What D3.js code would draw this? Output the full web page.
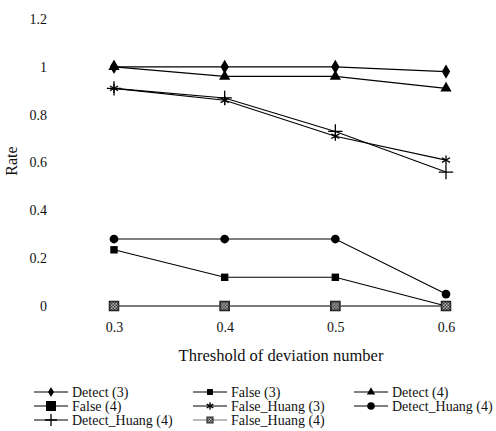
<!DOCTYPE html>
<html>
<head>
<meta charset="utf-8">
<script src="https://cdn.jsdelivr.net/npm/d3@7"></script>
<style>
  body { margin: 0; background: #fff; }
  text { font-family: "Liberation Serif", "DejaVu Serif", serif; fill: #111; }
  .axis text { font-size: 14px; }
  .axis .domain { display: none; }
  .line { fill: none; stroke: #000; stroke-width: 1.1; }
</style>
</head>
<body>
<svg width="496" height="431"></svg>
<script>
// thresholds on the x axis
var thresholds = [0.3, 0.4, 0.5, 0.6];
var yTicks = [0, 0.2, 0.4, 0.6, 0.8, 1, 1.2];

// rates
var detect3 = [1, 1, 1, 0.98];
var false3 = [0.235, 0.12, 0.12, 0];
var detect4 = [1, 0.96, 0.96, 0.91];
var false4 = [0, 0, 0, 0];
var falseHuang3 = [0.91, 0.86, 0.71, 0.61];
var detectHuang4 = [0.28, 0.28, 0.28, 0.05];
var detectHuang4b = [0.91, 0.87, 0.73, 0.56];
var falseHuang4 = [0, 0, 0, 0];

var seriesNames = ["Detect (3)", "False (3)", "Detect (4)", "False (4)",
  "False_Huang (3)", "Detect_Huang (4)", "Detect_Huang (4)", "False_Huang (4)"];
var seriesValues = [detect3, false3, detect4, false4, falseHuang3, detectHuang4, detectHuang4b, falseHuang4];

var svg = d3.select("svg");

var x = d3.scaleLinear().domain([0.3, 0.6]).range([114, 446]),
  y = d3.scaleLinear().domain([0, 1.2]).range([306, 19]);

// marker style per series (size on the chart, size in the legend)
var markers = [
  {type: d3.symbolDiamond, size: 60, leg: 30, fill: "#000", stroke: "none"},
  {type: d3.symbolSquare, size: 55, leg: 35, fill: "#000", stroke: "none"},
  {type: d3.symbolTriangle, size: 55, leg: 30, fill: "#000", stroke: "none"},
  {type: d3.symbolSquare, size: 110, leg: 100, fill: "#000", stroke: "none"},
  {type: d3.symbolAsterisk, size: 60, leg: 40, fill: "none", stroke: "#000"},
  {type: d3.symbolCircle, size: 60, leg: 45, fill: "#000", stroke: "none"},
  {type: d3.symbolPlus, size: 70, leg: 50, fill: "none", stroke: "#000"},
  {type: d3.symbolSquare, size: 70, leg: 35, fill: "url(#hatch)", stroke: "#333"}
];

var pat = svg.append("defs").append("pattern")
  .attr("id", "hatch")
  .attr("width", 3).attr("height", 3)
  .attr("patternUnits", "userSpaceOnUse");
pat.append("rect").attr("width", 3).attr("height", 3).attr("fill", "#bbb");
pat.append("rect").attr("width", 1.5).attr("height", 1.5).attr("fill", "#333");
pat.append("rect").attr("x", 1.5).attr("y", 1.5).attr("width", 1.5).attr("height", 1.5).attr("fill", "#333");

svg.append("g")
  .attr("class", "axis axis--y")
  .attr("transform", "translate(47,0)")
  .call(d3.axisLeft(y).tickValues(yTicks).tickSize(0).tickPadding(0).tickFormat(d3.format("")))
  .attr("font-family", null).attr("font-size", null);

svg.append("g")
  .attr("class", "axis axis--x")
  .attr("transform", "translate(0,306)")
  .call(d3.axisBottom(x).tickValues(thresholds).tickSize(0).tickPadding(16).tickFormat(d3.format(".1f")))
  .attr("font-family", null).attr("font-size", null);

svg.append("text")
  .attr("transform", "translate(17,161) rotate(-90)")
  .attr("text-anchor", "middle")
  .style("font-size", "16px")
  .text("Rate");

svg.append("text")
  .attr("x", 281)
  .attr("y", 361)
  .attr("text-anchor", "middle")
  .style("font-size", "16.5px")
  .text("Threshold of deviation number");

var line = d3.line()
  .x(function(d, i) { return x(thresholds[i]); })
  .y(function(d) { return y(d); });

var series = seriesValues.map(function(v, i) {
  return {id: seriesNames[i], values: v, marker: markers[i], idx: i};
});

var groups = svg.selectAll(".series")
  .data(series)
  .enter().append("g")
  .attr("class", "series");

groups.append("path")
  .attr("class", "line")
  .attr("d", function(d) { return line(d.values); })
  .style("stroke", function(d) { return d.idx === 7 ? "#777" : "#000"; })
  .style("stroke-width", function(d) { return d.idx === 7 ? 1 : 1.1; })
  .style("stroke-dasharray", function(d) { return d.idx === 7 ? "2,1" : null; });

function drawMarker(sel, m, size) {
  sel.attr("d", d3.symbol().type(m.type).size(size))
    .attr("fill", m.fill)
    .attr("stroke", m.stroke)
    .attr("stroke-width", m.stroke === "none" ? 0 : 1.3);
}

groups.each(function(s) {
  d3.select(this).selectAll(".mark")
    .data(s.values)
    .enter().append("path")
    .attr("class", "mark")
    .attr("transform", function(d, i) { return "translate(" + x(thresholds[i]) + "," + y(d) + ")"; })
    .call(drawMarker, s.marker, s.marker.size);
});

// legend, three columns
var legCols = [34, 193, 354],
  legRows = [392, 406, 420];

var leg = svg.selectAll(".legend")
  .data(series)
  .enter().append("g")
  .attr("class", "legend")
  .attr("transform", function(d, i) {
    return "translate(" + legCols[i % 3] + "," + legRows[Math.floor(i / 3)] + ")";
  });

leg.append("line")
  .attr("x1", 0).attr("x2", 34)
  .attr("stroke", function(d) { return d.idx === 7 ? "#777" : "#000"; })
  .attr("stroke-width", 1);

leg.append("path")
  .attr("transform", "translate(17,0)")
  .each(function(d) { d3.select(this).call(drawMarker, d.marker, d.marker.leg); });

leg.append("text")
  .attr("x", 38)
  .attr("dy", "0.35em")
  .style("font-size", "14px")
  .text(function(d) { return d.id; });
</script>
</body>
</html>
